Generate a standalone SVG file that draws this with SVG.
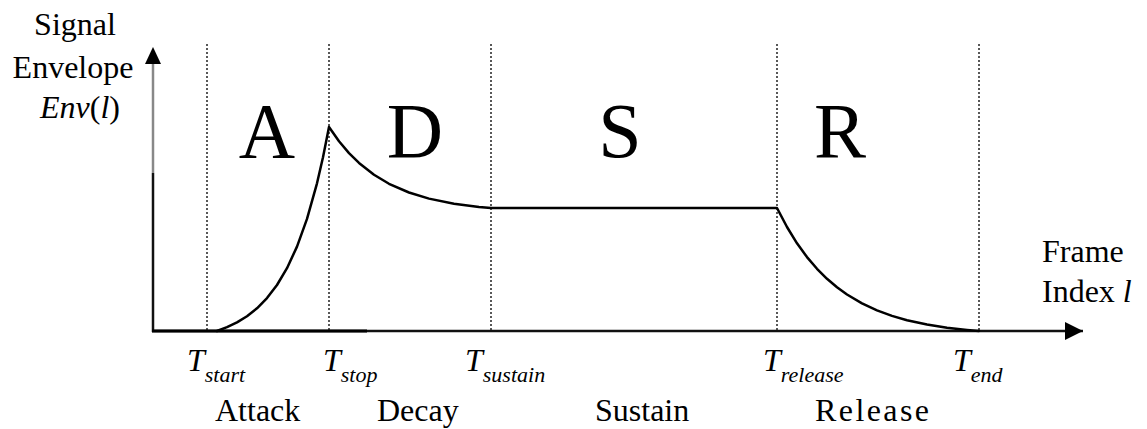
<svg xmlns="http://www.w3.org/2000/svg" width="1147" height="429" viewBox="0 0 1147 429" font-family="'Liberation Serif', 'DejaVu Serif', serif">
<defs>
<style>
text{font-family:'Liberation Serif','DejaVu Serif','Noto Serif',serif;fill:#000}
.lab{font-size:32px}
.big{font-size:78px;text-anchor:middle}
.ph{font-size:32px}
.t{font-size:32px;font-style:italic}
.sub{font-size:22px;font-style:italic}
.dot{stroke:#222;stroke-width:1.5;stroke-dasharray:2 2;fill:none}
.axis{stroke:#111;stroke-width:2.5;fill:none}
.curve{stroke:#000;stroke-width:2.5;fill:none;stroke-linejoin:round;stroke-linecap:round}
</style>
<marker id="ah" viewBox="0 0 10 10" refX="10" refY="5" markerWidth="18" markerHeight="18" markerUnits="userSpaceOnUse" orient="auto">
<path d="M0,0 L10,5 L0,10 Z" fill="#000"/>
</marker>
</defs>
<rect width="1147" height="429" fill="#fff"/>
<g id="ylabel">
<text class="lab" x="75" y="35" text-anchor="middle">Signal</text>
<text class="lab" x="73" y="78" text-anchor="middle">Envelope</text>
<text class="lab" x="80" y="118" text-anchor="middle"><tspan font-style="italic">Env</tspan>(<tspan font-style="italic">l</tspan>)</text>
</g>
<g id="xlabel">
<text class="lab" x="1042" y="262">Frame</text>
<text class="lab" x="1042" y="302">Index <tspan font-style="italic">l</tspan></text>
</g>
<g id="connectors">
<line class="dot" x1="207" y1="44" x2="207" y2="330"/>
<line class="dot" x1="329" y1="44" x2="329" y2="330"/>
<line class="dot" x1="491" y1="44" x2="491" y2="330"/>
<line class="dot" x1="777" y1="44" x2="777" y2="330"/>
<line class="dot" x1="979" y1="44" x2="979" y2="330"/>
<line x1="153" y1="173" x2="153" y2="60" stroke="#888" stroke-width="2.5"/>
<line class="axis" x1="153" y1="332" x2="153" y2="173" stroke="#000"/>
<path d="M153,47 L161,64 L145,64 Z" fill="#000"/>
<line class="axis" x1="152" y1="331" x2="1083" y2="331" marker-end="url(#ah)"/>
<line x1="152" y1="331" x2="367" y2="331" stroke="#000" stroke-width="3"/>
<polyline class="curve" points="217,331 227,327.2 237,322.4 247,316.2 257,308.3 267,298.1 277,285 287,268.2 297,246.6 307,218.9 317,183.3 323,157.2 329,127 339,141.2 349,153.1 359,162.9 374,174.8 389,183.8 409,192.5 429,198.6 454,203.7 479,206.9 491,208 777,208 787,227 797,243.3 807,257.1 817,268.8 827,278.8 837,287.3 847,294.5 862,303.4 877,310.4 892,315.9 907,320.2 927,324.5 947,327.7 967,329.9 979,331"/>
</g>
<g id="phases">
<text class="big" x="267" y="157">A</text>
<text class="big" x="415" y="157">D</text>
<text class="big" x="620" y="157">S</text>
<text class="big" x="840" y="157">R</text>
</g>
<g id="times">
<text x="187" y="371"><tspan class="t">T</tspan><tspan class="sub" dy="11">start</tspan></text>
<text x="323" y="371"><tspan class="t">T</tspan><tspan class="sub" dy="11">stop</tspan></text>
<text x="465" y="371"><tspan class="t">T</tspan><tspan class="sub" dy="11">sustain</tspan></text>
<text x="763" y="371"><tspan class="t">T</tspan><tspan class="sub" dy="11">release</tspan></text>
<text x="953" y="371"><tspan class="t">T</tspan><tspan class="sub" dy="11">end</tspan></text>
</g>
<g id="phasenames">
<text class="ph" x="215" y="421">Attack</text>
<text class="ph" x="377" y="421">Decay</text>
<text class="ph" x="595" y="421">Sustain</text>
<text class="ph" x="815" y="421" textLength="114">Release</text>
</g>
</svg>
